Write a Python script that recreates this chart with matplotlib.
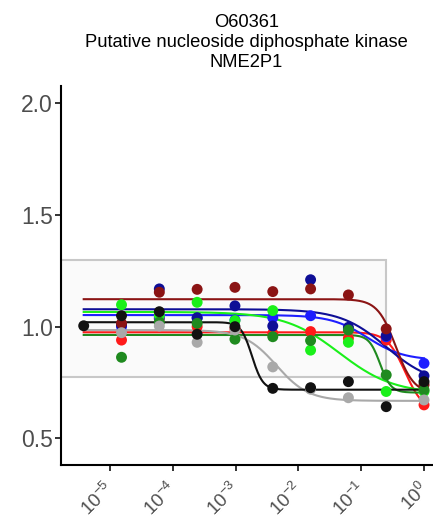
import numpy as np
import matplotlib
matplotlib.use("Agg")
import matplotlib.pyplot as plt
from matplotlib.patches import Rectangle
from matplotlib.transforms import ScaledTranslation

plt.rcParams["font.family"] = ["Liberation Sans", "DejaVu Sans"]

# doses: 4-fold dilution series, highest = 1
doses = [4.0 ** -k for k in range(9, -1, -1)]

nan = np.nan
series_names = ["red", "blue", "navy", "darkred", "lime", "dkgreen", "gray", "black"]
colors = ["#FF1A1A", "#1E1EFF", "#0E0E96", "#8B1414", "#1AF01A", "#1F8A1F", "#A9A9A9", "#111111"]

red = [nan, 0.94, 1.035, 1.00, 0.99, 0.97, 0.978, 0.948, 0.94, 0.65]
blue = [nan, 1.00, 1.04, 1.038, 1.03, 1.04, 1.049, 0.99, 0.955, 0.836]
navy = [nan, 1.008, 1.169, 1.04, 1.093, 1.003, 1.21, 0.997, 0.96, 0.78]
darkred = [nan, 1.015, 1.154, 1.167, 1.176, 1.157, 1.169, 1.142, 0.99, 0.74]
lime = [nan, 1.098, 1.05, 1.109, 1.027, 1.072, 0.895, 0.93, 0.71, 0.71]
dkgreen = [nan, 0.863, 1.02, 1.015, 0.944, 0.955, 0.938, 0.985, 0.784, 0.717]
gray = [nan, 0.973, 1.003, 0.93, 0.985, 0.82, 0.72, 0.682, nan, 0.672]
black = [1.004, 1.049, 1.067, 0.966, 1.00, 0.724, 0.727, 0.754, 0.642, 0.754]
values = [red, blue, navy, darkred, lime, dkgreen, gray, black]

# fitted log-logistic curve parameters per series
tops = [0.975, 1.052, 1.078, 1.123, 1.066, 0.963, 0.985, 1.02]
bottoms = [0.62, 0.85, 0.74, 0.70, 0.70, 0.705, 0.668, 0.718]
log_ec50 = [-0.30, -0.90, -0.60, -0.45, -1.35, -0.70, -2.35, -2.74]
hills = [3.0, 1.5, 1.2, 3.0, 1.0, 5.0, 1.7, 5.0]

box_bottom, box_top, box_right = 0.776, 1.30, 0.25

fig = plt.figure(figsize=(4.33, 5.26), dpi=100)
ax = fig.add_axes([61 / 433, 1 - 465 / 526, (432 - 61) / 433, (465 - 86) / 526])
ax.set_xscale("log")
xmin, xmax = 10 ** -5.78, 10 ** 0.127
ax.set_xlim(xmin, xmax)
ax.set_ylim(0.381, 2.077)

ax.add_patch(Rectangle((xmin, box_bottom), box_right - xmin, box_top - box_bottom,
                       facecolor="#FAFAFA", edgecolor="#C8C8C8", linewidth=1.5, zorder=1))

xs = np.logspace(np.log10(doses[0]), np.log10(doses[-1]), 300)
for i, col in enumerate(colors):
    ys = bottoms[i] + (tops[i] - bottoms[i]) / (1 + 10 ** ((np.log10(xs) - log_ec50[i]) * hills[i]))
    ax.plot(xs, ys, color=col, linewidth=1.5, zorder=2 + i * 0.1)

for i, col in enumerate(colors):
    ax.scatter(doses, values[i], s=62, color=col, edgecolors="none", zorder=4 + i * 0.1)

ax.set_yticks([0.5, 1.0, 1.5, 2.0])
ax.set_yticklabels(["0.5", "1.0", "1.5", "2.0"])
ax.set_xticks([1e-5, 1e-4, 1e-3, 1e-2, 1e-1, 1e0])
ax.xaxis.set_minor_locator(matplotlib.ticker.NullLocator())

for side in ["top", "right"]:
    ax.spines[side].set_visible(False)
for side in ["left", "bottom"]:
    ax.spines[side].set_linewidth(1.5)
    ax.spines[side].set_color("black")

ax.tick_params(axis="both", length=4, width=1.4, color="#333333", labelcolor="#4D4D4D")
ax.tick_params(axis="y", pad=2, labelsize=16.5)
ax.tick_params(axis="x", pad=6, labelsize=13.5)
shift = ScaledTranslation(-6 / 100, 0, fig.dpi_scale_trans)
for lab in ax.get_xticklabels():
    lab.set_rotation(45)
    lab.set_ha("right")
    lab.set_va("top")
    lab.set_rotation_mode("anchor")
    lab.set_transform(lab.get_transform() + shift)

fig.text((61 + 432) / 2 / 433, 1 - 14 / 526,
         "O60361\nPutative nucleoside diphosphate kinase\nNME2P1",
         ha="center", va="top", fontsize=13.2, linespacing=1.22, color="black")

fig.savefig("out.png", dpi=100)
